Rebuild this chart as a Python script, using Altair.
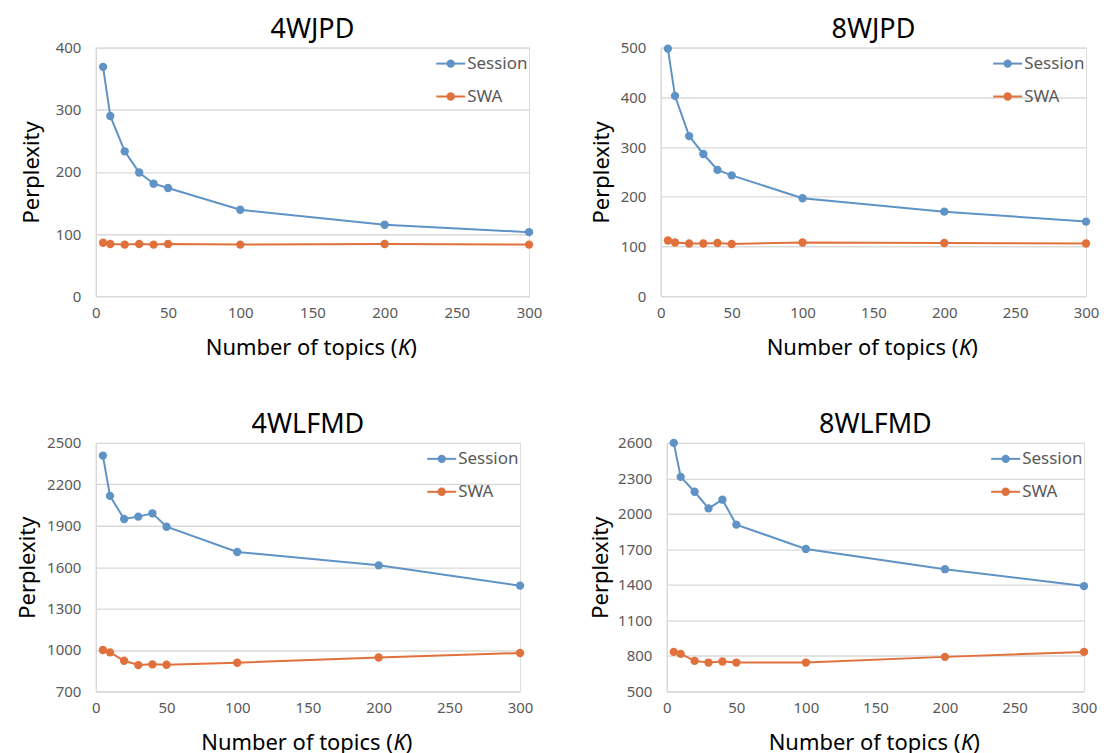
import altair as alt
import pandas as pd

K = [5, 10, 20, 30, 40, 50, 100, 200, 300]
series_names = ["Session", "SWA"]

s_4wjpd = [369, 290, 233, 199, 181, 174, 139, 115, 103]
w_4wjpd = [86, 84, 83, 84, 83, 84, 83, 84, 83]
s_8wjpd = [498, 403, 322, 286, 254, 243, 197, 170, 150]
w_8wjpd = [112, 108, 106, 106, 107, 105, 108, 107, 106]
s_4wlfmd = [2408, 2116, 1949, 1966, 1990, 1893, 1710, 1613, 1466]
w_4wlfmd = [1000, 983, 922, 891, 896, 893, 908, 946, 978]
s_8wlfmd = [2600, 2313, 2187, 2047, 2120, 1909, 1704, 1533, 1390]
w_8wlfmd = [834, 817, 758, 744, 753, 744, 744, 792, 834]

x_ticks = [0, 50, 100, 150, 200, 250, 300]

FONT = "Noto Sans"
BLUE = "#5F93C6"
ORANGE = "#E1713C"
COLORS = [BLUE, ORANGE]
H = 249
GRID = "#d9d9d9"

one = pd.DataFrame({"a": [0]})


def panel(title, sess, swa, ymin, ymax, ystep, W, tpad):
    df = pd.DataFrame({
        "K": K * 2,
        "Perplexity": sess + swa,
        "Series": [series_names[0]] * len(K) + [series_names[1]] * len(K),
    })
    yvals = list(range(ymin, ymax + 1, ystep))
    base = alt.Chart(df).encode(
        x=alt.X("K:Q", scale=alt.Scale(domain=[0, 300], nice=False, zero=False),
                axis=alt.Axis(values=x_ticks, title=None, grid=False, ticks=False,
                              domainColor=GRID, domainWidth=1.3, format="d",
                              labelFlush=False,
                              labelColor="#595959", labelFontSize=15, labelFont=FONT,
                              labelPadding=9)),
        y=alt.Y("Perplexity:Q", scale=alt.Scale(domain=[ymin, ymax], nice=False, zero=False),
                axis=alt.Axis(values=yvals, title="Perplexity", grid=True, gridColor=GRID,
                              gridWidth=1.3, ticks=False, domainColor=GRID, domainWidth=1.3,
                              format="d", labelFlush=False,
                              labelColor="#595959", labelFontSize=15, labelFont=FONT,
                              labelPadding=15, titleFont=FONT, titleFontSize=22,
                              titleFontWeight="normal", titleColor="#000000",
                              titlePadding=tpad)),
        color=alt.Color("Series:N",
                        scale=alt.Scale(domain=series_names, range=COLORS),
                        legend=None),
    )
    lines = base.mark_line(strokeWidth=2)
    pts = base.mark_circle(size=70, opacity=1)
    layers = [lines, pts]
    # x-axis title with italic K
    ty = H + 52
    for txt, style, align, dx in [("Number of topics (", "normal", "right", 85),
                                   ("K", "italic", "center", 92),
                                   (")", "normal", "left", 98)]:
        layers.append(alt.Chart(one).mark_text(
            align=align, baseline="middle", font=FONT, fontSize=22, fontStyle=style,
            color="#000000", dx=dx).encode(
            x=alt.value(W / 2), y=alt.value(ty), text=alt.value(txt)))
    # legend (inside top-right)
    for i, name in enumerate(series_names):
        ly = 16 + 33 * i
        layers.append(alt.Chart(one).mark_rule(strokeWidth=2, color=COLORS[i]).encode(
            x=alt.value(W - 93), x2=alt.value(W - 64), y=alt.value(ly)))
        layers.append(alt.Chart(one).mark_circle(size=70, opacity=1, color=COLORS[i]).encode(
            x=alt.value(W - 78.5), y=alt.value(ly)))
        layers.append(alt.Chart(one).mark_text(
            align="left", baseline="middle", font=FONT, fontSize=17, color="#595959").encode(
            x=alt.value(W - 62), y=alt.value(ly), text=alt.value(name)))
    return alt.layer(*layers).properties(
        width=W, height=H,
        title=alt.TitleParams(title, font=FONT, fontSize=27, fontWeight="normal",
                              color="#000000", anchor="middle", frame="group",
                              offset=-6, dy=-3),
    )


top = alt.hconcat(panel("4WJPD", s_4wjpd, w_4wjpd, 0, 400, 100, 434, 12),
                  panel("8WJPD", s_8wjpd, w_8wjpd, 0, 500, 100, 426, 7), spacing=46)
bottom = alt.hconcat(panel("4WLFMD", s_4wlfmd, w_4wlfmd, 700, 2500, 300, 425, 7),
                     panel("8WLFMD", s_8wlfmd, w_8wlfmd, 500, 2600, 300, 418, 5), spacing=55)
chart = alt.vconcat(top, bottom, spacing=50).configure_view(
    stroke=None).configure(padding={"left": 8, "top": 6, "right": 0, "bottom": 0})

chart.save("out.html", embed_options={"renderer": "svg", "actions": False})
